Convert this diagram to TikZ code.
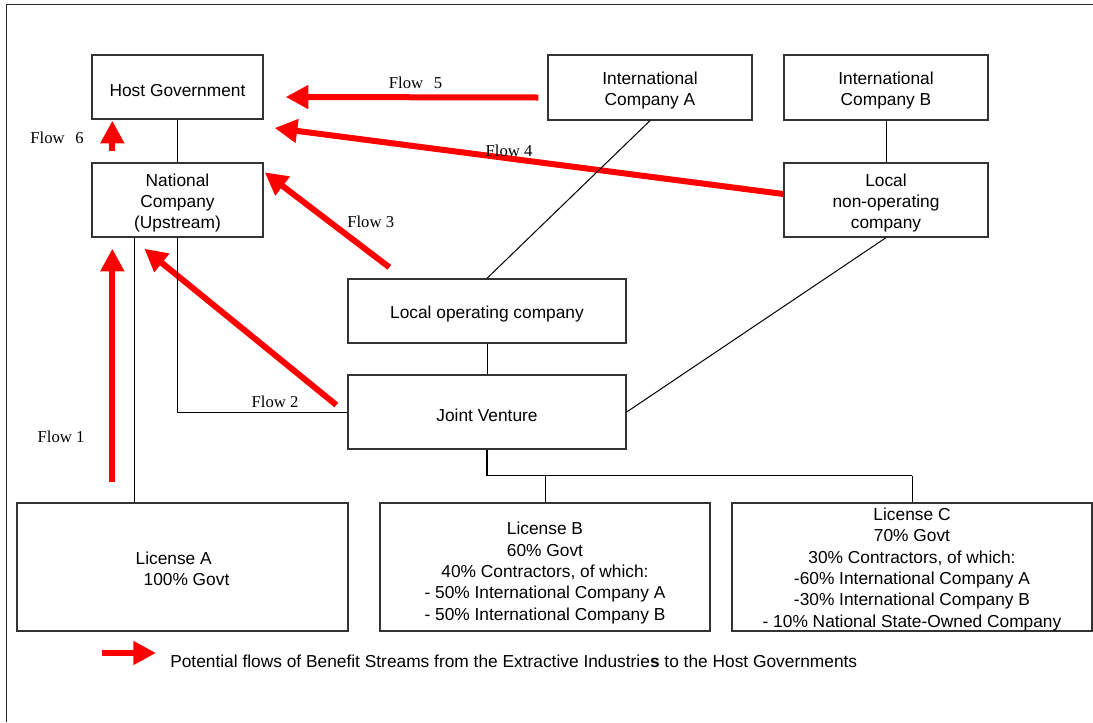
\documentclass[tikz,border=0pt]{standalone}
\usepackage{fontspec}
\setmainfont{Liberation Serif}
\setsansfont{Liberation Sans}
\usetikzlibrary{arrows.meta, calc}
\definecolor{flowred}{HTML}{FF0000}
\definecolor{edge}{HTML}{333333}

\begin{document}
\begin{tikzpicture}[
  x=0.75pt, y=-0.75pt,
  font=\sffamily\fontsize{13}{16}\selectfont,
  every node/.style={align=center},
  box/.style={rectangle, draw=edge, line width=1pt, fill=white, inner sep=0pt,
              execute at begin node={\rule{0pt}{14.5pt}}},
  link/.style={draw=black, line width=0.75pt},
  bus/.style={link, line width=1.2pt},
  flow/.style={-{Triangle[length=17pt, width=17pt]}, line width=4.5pt, draw=flowred},
  lbl/.style={font=\rmfamily\fontsize{12.5}{14}\selectfont, inner sep=0pt},
  frame/.style={draw=black!85, line width=1.2pt}
]
  \useasboundingbox (0,0) rectangle (1093,722);
  \draw[frame] (6.5,722) -- (6.5,4.5) -- (1093,4.5);

  % organisations
  \node[box, minimum width=128.25pt, minimum height=48pt] (hostgov) at (177.5,87) {Host Government};
  \node[box, minimum width=128.25pt, minimum height=55.5pt, text height=45.9pt] (natco) at (177.5,200) {National\\Company\\(Upstream)};
  \node[box, minimum width=153pt, minimum height=48.75pt, text height=29.9pt] (intA) at (650,87.5) {International\\Company A};
  \node[box, minimum width=153pt, minimum height=48.75pt, text height=29.9pt] (intB) at (886,87.5) {International\\Company B};
  \node[box, minimum width=153pt, minimum height=55.5pt, text height=45.9pt] (localnon) at (886,200) {Local\\non-operating\\company};
  \node[box, minimum width=208.5pt, minimum height=48pt] (localop) at (487,311) {Local operating company};
  \node[box, minimum width=208.5pt, minimum height=55.5pt] (jv) at (487,412) {Joint Venture};

  % licenses
  \node[box, minimum width=248.25pt, minimum height=96pt, align=left, text height=28.4pt] (licA) at (182.5,567)
    {License A\\\hspace*{6pt}100\% Govt};
  \node[box, minimum width=247.5pt, minimum height=96pt, text height=82.4pt] (licB) at (545,567)
    {License B\\60\% Govt\\40\% Contractors, of which:\\- 50\% International Company A\\- 50\% International Company B};
  \node[box, minimum width=270pt, minimum height=96pt, text height=93pt] (licC) at (912,567)
    {License C\\70\% Govt\\30\% Contractors, of which:\\-60\% International Company A\\-30\% International Company B\\- 10\% National State-Owned Company};

  % benefit streams
  \draw[flow] ($(natco.south west)+(21,244)$) -- ($(natco.south west)+(21,11)$);
  \draw[flow] ($(jv.west)+(-11,-7)$) -- ($(natco.south west)+(53,11)$);
  \draw[flow] ($(localop.north west)+(42,-11)$) -- ($(natco.north east)+(1,10)$);
  \draw[flow] ($(localnon.west)+(0,-6)$) -- ($(hostgov.east)+(11,41)$);
  \draw[flow] ($(intA.west)+(-9,10)$) -- ($(hostgov.east)+(22,10)$);
  \draw[flow] ($(hostgov.south west)+(21,31)$) -- ($(hostgov.south west)+(21,1)$);

  % ownership links
  \draw[link] (hostgov.south) -- (natco.north);
  \draw[link] (intA.south) -- (localop.north);
  \draw[link] (intB.south) -- (localnon.north);
  \draw[link] (localop.south) -- (jv.north);
  \draw[link] (jv.east) -- (localnon.south);
  \draw[link] (natco.south) |- (jv.west);
  \coordinate (natdrop) at ($(natco.south west)!0.25!(natco.south east)$);
  \draw[link] (natdrop) -- (natdrop |- licA.north);
  \coordinate (fork) at ($(jv.south)+(0,26)$);
  \draw[bus] (jv.south) -- (fork) -- (fork -| licC.north);
  \draw[link] (fork -| licB.north) -- (licB.north);
  \draw[link] (fork -| licC.north) -- (licC.north);

  % flow labels
  \node[lbl] (f1) at (61,437) {Flow 1};
  \node[lbl] (f2) at (275,402) {Flow 2};
  \node[lbl] (f3) at (370.7,221.7) {Flow 3};
  \node[lbl] (f4) at (509,150.5) {Flow 4};
  \node[lbl] (f5) at (415.5,82.7) {Flow\hspace{8pt}5};
  \node[lbl] (f6) at (57,138) {Flow\hspace{8pt}6};

  % key
  \coordinate (key) at (102,653);
  \draw[flow] (key) -- ++(54,0);
  \node[anchor=west, inner sep=0pt] (keytext) at (170,661)
    {Potential flows of Benefit Streams from the Extractive Industrie\textbf{s} to the Host Governments};
\end{tikzpicture}
\end{document}
